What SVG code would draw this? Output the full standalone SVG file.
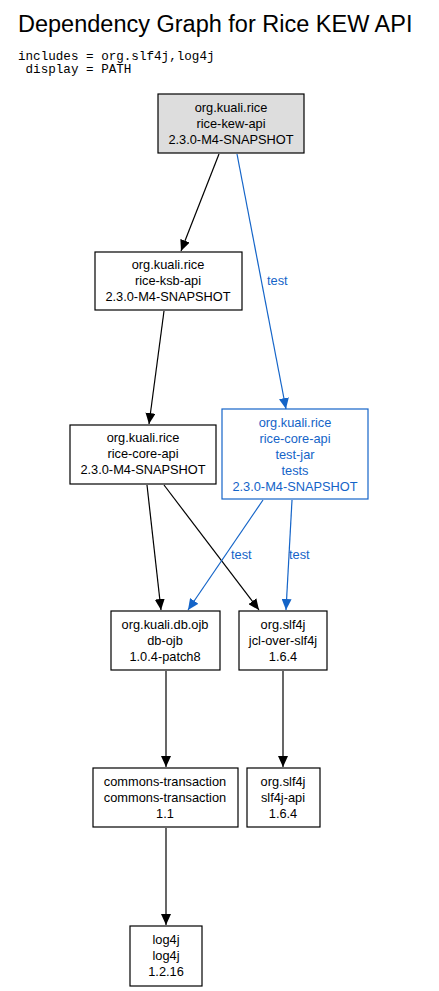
<svg xmlns="http://www.w3.org/2000/svg" width="439" height="991" viewBox="0 0 439 991">
<style>
.n rect{fill:#fff;stroke:#000;stroke-width:1.2}
.n text{font-family:"Liberation Sans",Arial,sans-serif;font-size:12.8px;text-anchor:middle;fill:#000}
.b rect{stroke:#1464c8}
.b text{fill:#1464c8}
.e{fill:none;stroke:#000;stroke-width:1.2}
.eb{fill:none;stroke:#1464c8;stroke-width:1.2}
.lbl{font-family:"Liberation Sans",Arial,sans-serif;font-size:12.8px;fill:#1464c8}
</style>
<defs>
<marker id="ak" markerUnits="userSpaceOnUse" markerWidth="12" markerHeight="10" refX="11" refY="5" orient="auto"><path d="M0,0 L11,5 L0,10 z" fill="#000"/></marker>
<marker id="ab" markerUnits="userSpaceOnUse" markerWidth="12" markerHeight="10" refX="11" refY="5" orient="auto"><path d="M0,0 L11,5 L0,10 z" fill="#1464c8"/></marker>
</defs>
<rect width="439" height="991" fill="#fff"/>
<text x="18" y="32" font-family="'Liberation Sans',Arial,sans-serif" font-size="23.5">Dependency Graph for Rice KEW API</text>
<text x="18" y="60" font-family="'Liberation Mono','Courier New',monospace" font-size="12.6" xml:space="preserve">includes = org.slf4j,log4j</text>
<text x="18" y="73" font-family="'Liberation Mono','Courier New',monospace" font-size="12.6" xml:space="preserve"> display = PATH</text>
<g id="edges">
<path class="e" d="M219,154 L181,251" marker-end="url(#ak)"/>
<path class="eb" d="M237,154 L286,409" marker-end="url(#ab)"/>
<text class="lbl" x="267" y="285">test</text>
<path class="e" d="M164,311 L149,424" marker-end="url(#ak)"/>
<path class="e" d="M147,485 L161,610" marker-end="url(#ak)"/>
<path class="e" d="M164,485 L259,610" marker-end="url(#ak)"/>
<path class="eb" d="M263,500 L188,610" marker-end="url(#ab)"/>
<text class="lbl" x="231" y="559">test</text>
<path class="eb" d="M292,500 L286,610" marker-end="url(#ab)"/>
<text class="lbl" x="289" y="559">test</text>
<path class="e" d="M166,671 L166,767" marker-end="url(#ak)"/>
<path class="e" d="M283,671 L283,767" marker-end="url(#ak)"/>
<path class="e" d="M166,828 L166,925" marker-end="url(#ak)"/>
</g>
<g id="n1" class="n"><rect x="158" y="94" width="146" height="59" style="fill:#dddddd"/><text x="231" y="112">org.kuali.rice</text><text x="231" y="128">rice-kew-api</text><text x="231" y="144">2.3.0-M4-SNAPSHOT</text></g>
<g id="n2" class="n"><rect x="95" y="252" width="147" height="58"/><text x="168" y="269">org.kuali.rice</text><text x="168" y="285">rice-ksb-api</text><text x="168" y="301">2.3.0-M4-SNAPSHOT</text></g>
<g id="n3" class="n"><rect x="70" y="425" width="146" height="59"/><text x="143" y="442">org.kuali.rice</text><text x="143" y="458">rice-core-api</text><text x="143" y="474">2.3.0-M4-SNAPSHOT</text></g>
<g id="n4" class="n b"><rect x="222" y="409" width="146" height="90"/><text x="295" y="427">org.kuali.rice</text><text x="295" y="443">rice-core-api</text><text x="295" y="459">test-jar</text><text x="295" y="475">tests</text><text x="295" y="491">2.3.0-M4-SNAPSHOT</text></g>
<g id="n5" class="n"><rect x="111" y="611" width="109" height="59"/><text x="165" y="629">org.kuali.db.ojb</text><text x="165" y="645">db-ojb</text><text x="165" y="661">1.0.4-patch8</text></g>
<g id="n6" class="n"><rect x="239" y="611" width="88" height="59"/><text x="283" y="629">org.slf4j</text><text x="283" y="645">jcl-over-slf4j</text><text x="283" y="661">1.6.4</text></g>
<g id="n7" class="n"><rect x="93" y="768" width="145" height="59"/><text x="165" y="786">commons-transaction</text><text x="165" y="802">commons-transaction</text><text x="165" y="818">1.1</text></g>
<g id="n8" class="n"><rect x="247" y="768" width="73" height="59"/><text x="283" y="786">org.slf4j</text><text x="283" y="802">slf4j-api</text><text x="283" y="818">1.6.4</text></g>
<g id="n9" class="n"><rect x="130" y="926" width="72" height="60"/><text x="166" y="944">log4j</text><text x="166" y="960">log4j</text><text x="166" y="976">1.2.16</text></g>
</svg>
